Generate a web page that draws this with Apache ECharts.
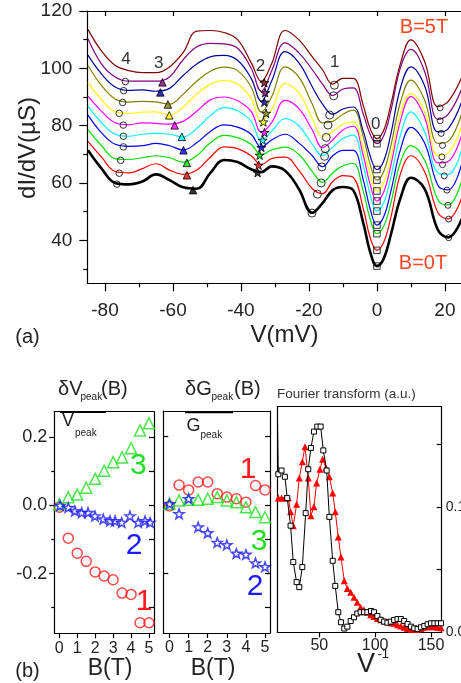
<!DOCTYPE html>
<html>
<head>
<meta charset="utf-8">
<script src="https://cdn.jsdelivr.net/npm/echarts@6/dist/echarts.min.js"></script>
<style>
  html, body { margin: 0; padding: 0; background: #fff; }
  #chart { width: 461px; height: 683px; }
</style>
</head>
<body>
<div id="chart"></div>
<script>
const FONT = '"Liberation Sans", Arial, Helvetica, sans-serif';

// ---- (a) tunnelling spectra dI/dV(V), one curve per field B = 0 ... 5 T ----
const biasV = [-85, -81, -77, -73, -69, -65, -61, -57, -53, -49, -45, -41, -37, -34, -31, -27, -23, -19, -16, -13, -10, -7, -4, -2, 0, 2, 4, 7, 10, 14, 18, 21, 25];
const gB00 = [71.4, 65, 60, 59.5, 60.5, 63, 61, 58.5, 58, 63.5, 68, 67.3, 64.8, 63.8, 65.8, 64.3, 58, 49.6, 53, 57.5, 58.6, 57.5, 46, 36, 31, 33.6, 41.5, 55, 61.8, 58, 43.5, 41, 47.5];
const gB05 = [74.5, 69, 64, 63.5, 65, 66.7, 64.5, 63, 64.5, 69, 72.6, 72, 69.5, 66.4, 68.5, 69, 64.5, 58, 56.3, 60.5, 62.6, 62, 51, 41, 36.5, 39.3, 47.5, 63.5, 69.5, 64, 49.5, 47.5, 55];
const gB10 = [78.5, 73, 68.5, 68.2, 68.8, 69.5, 68.8, 67.3, 69.5, 74, 76.6, 75.8, 73.5, 69.8, 71.5, 72.5, 70, 64, 60.2, 63.5, 66, 66.8, 57, 47.5, 42.3, 44.9, 52.5, 67.5, 73, 68, 54, 52.3, 61];
const gB15 = [83.7, 77.5, 73.5, 72.8, 73, 73.8, 73, 71.5, 74, 78, 80.3, 79.5, 77, 72.5, 75, 77, 74, 69.5, 65.7, 69.5, 71.4, 71.4, 61, 51, 45.3, 48.2, 56.6, 72, 79.4, 74, 59, 57.6, 67];
const gB20 = [86.8, 81, 77, 76.3, 77, 77.3, 77, 76.1, 79, 83.5, 86.3, 85.2, 81.5, 75, 78, 82.5, 80, 73.5, 69.5, 72.5, 75.5, 76.7, 66, 56, 50.2, 53.1, 61.6, 77, 84.8, 78, 63.5, 63, 72];
const gB25 = [90.3, 85, 81, 80.3, 81, 80.8, 80.5, 81.5, 85, 89, 90, 88.7, 85, 77.7, 81, 88.8, 86, 78.5, 72.3, 75, 78.5, 79.8, 69.5, 59.5, 53.7, 56.8, 65.7, 82, 90.1, 83, 67, 67.5, 77];
const gB30 = [95, 89, 84.8, 84.3, 84.7, 84.8, 83.7, 86.5, 91, 94.5, 95.8, 94.5, 89.5, 81.4, 85.5, 94.7, 91.5, 82.5, 76.2, 78, 80.5, 81.3, 72, 63, 57.2, 60.1, 68.4, 84.5, 91.2, 85, 69.6, 70.5, 80];
const gB35 = [101, 94, 89.3, 88.2, 88.5, 88.3, 87.5, 91, 95.5, 99, 100.4, 99.2, 93.5, 84.8, 90, 100.5, 97, 87.5, 81, 81.5, 84, 85.4, 76, 66.5, 61, 64, 72.5, 88.5, 95.9, 89, 73.8, 74.5, 84.5];
const gB40 = [104.6, 98, 93.5, 92.3, 92.5, 92, 93, 97.5, 101.5, 104, 104.5, 102.8, 96.5, 88.5, 95.5, 105.8, 102, 93.5, 87.5, 84, 85.8, 86.5, 78, 69.5, 64.7, 67.7, 76.5, 93.5, 100.5, 94, 77.8, 79, 88.5];
const gB45 = [110.3, 101.5, 97, 95.5, 95.5, 95.5, 97, 103, 107.5, 108.7, 108.5, 107, 100, 92, 99, 108.9, 105.5, 99.5, 94.5, 90.5, 92.8, 93.2, 84, 77, 73.7, 76.5, 84.6, 100.5, 106.6, 99, 82.2, 84, 93];
const gB50 = [113.5, 106, 101, 99.2, 98.5, 98.5, 100.5, 105.5, 113, 113.2, 112.5, 110, 102, 95.5, 101.5, 113.2, 110, 104, 99.5, 94.5, 96.5, 96.5, 87, 79, 75.5, 78.4, 86.9, 102, 109.9, 102.5, 86.6, 88.5, 97];
const curveColors = ['#000000', '#ff0000', '#00dd00', '#0000ff', '#00ffff', '#ff00ff', '#ffff00', '#808000', '#000099', '#800080', '#800000'];

// peak positions tracked on each curve (curve index = position in the arrays)
const peak4V = [-76.5, -75.8, -75.4, -74.6, -74.6, -74.6, -75.8, -74.8, -74.5, -74.0];
const peak4G = [59.6, 63.4, 67.9, 72.6, 76.3, 80.2, 84.3, 88.1, 92.2, 95.4];
const peak3V = [-54.1, -55.9, -55.9, -56.9, -57.4, -59.5, -61.1, -61.5, -63.7, -63.1];
const peak3G = [57.5, 62.7, 67, 71.4, 76.1, 80.1, 83.6, 87.4, 91.6, 95.1];
const peak2V = [-35.1, -34.8, -34.5, -34.0, -33.6, -33.1, -33.4, -32.6, -33.1, -32.9, -33.1];
const peak2G = [63.6, 66.2, 69.7, 72.4, 74.9, 77.6, 81.3, 84.3, 88.2, 91.5, 95];
const peak1V = [-19.1, -17.5, -16.4, -16.2, -15.4, -15.2, -14.9, -14.4, -13.9, -12.7, -12.5];
const peak1G = [49.5, 56.1, 60, 65.6, 69.3, 72, 75.9, 80.2, 83.7, 90.4, 94.1];
const peak0V = [0, 0, 0, 0, 0, 0, 0, 0, 0, 0, 0];
const peak0G = [31, 36.5, 42.3, 45.3, 50.2, 53.7, 57.2, 61, 64.7, 73.7, 75.5];
const peakRV = [21.1, 21.1, 20.9, 20.6, 19.8, 19.3, 19.1, 19.3, 18.9, 18.6, 18.6];
const peakRG = [40.9, 47.4, 52.2, 57.5, 62.5, 66.4, 69.1, 73.1, 77.3, 81.7, 86.2];

const vTicks = [-80, -60, -40, -20, 0, 20];
const vMinor = [-70, -50, -30, -10, 10];
const gTicks = [40, 60, 80, 100, 120];
const gMinor = [30, 50, 70, 90, 110];

// ---- (b) relative peak shifts versus field ----
const fieldB = [0, 0.5, 1, 1.5, 2, 2.5, 3, 3.5, 4, 4.5, 5];
const dV1 = [-0.005, -0.096, -0.140, -0.164, -0.195, -0.207, -0.218, -0.257, -0.261, -0.344, -0.344];
const dV3 = [0.003, 0.024, 0.032, 0.052, 0.078, 0.102, 0.127, 0.141, 0.168, 0.220, 0.241];
const dV2B = [0.04, 0.5, 0.87, 1.25, 1.6, 1.99, 2.45, 2.83, 3.11, 3.48, 3.94, 4.4, 4.78, 5.06];
const dV2 = [0.0, -0.006, -0.016, -0.021, -0.021, -0.031, -0.040, -0.045, -0.045, -0.050, -0.031, -0.050, -0.045, -0.050];
const dG1 = [-0.003, 0.058, 0.044, 0.067, 0.067, 0.033, 0.023, 0.018, 0.008, 0.057, 0.044];
const dG3 = [0.003, 0.013, 0.015, 0.015, 0.018, 0.023, 0.013, 0.008, -0.007, -0.021, -0.036];
const dG2 = [0.003, -0.026, 0.018, -0.065, -0.082, -0.110, -0.117, -0.142, -0.145, -0.170, -0.181];
const bTicks = [0, 1, 2, 3, 4, 5];
const relTicks = [-0.2, 0, 0.2];
const relMinor = [-0.3, -0.1, 0.1];
const relAll = [-0.3, -0.2, -0.1, 0, 0.1, 0.2];

// ---- Fourier transform of the spectra ----
const ftBlackX = [12.6, 13.3, 16.2, 19.2, 21.3, 24.3, 26.7, 29.7, 32.1, 34.8, 37.8, 40.1, 42.5, 45.2, 48.2, 51.2, 53.6, 56.6, 59, 62, 64.3, 67, 69.4, 72.4, 75.1, 78.1, 81.1, 84, 87, 90, 93, 96.3, 99, 102, 105, 108, 111, 114, 117, 120, 123, 126, 129, 132, 135, 138, 141, 144, 147, 150, 153, 156, 159];
const ftBlack = [0.168, 0.126, 0.129, 0.124, 0.107, 0.085, 0.056, 0.040, 0.036, 0.052, 0.095, 0.130, 0.147, 0.160, 0.164, 0.164, 0.145, 0.129, 0.092, 0.057, 0.037, 0.016, 0.008, 0.003, 0.0045, 0.009, 0.012, 0.015, 0.016, 0.016, 0.016, 0.017, 0.016, 0.013, 0.010, 0.0085, 0.0077, 0.0085, 0.0098, 0.0106, 0.0106, 0.009, 0.0066, 0.0045, 0.0032, 0.0027, 0.004, 0.005, 0.0064, 0.0072, 0.0072, 0.0072, 0.0072];
const ftRedX = [13.3, 16.2, 19.2, 22.2, 24.3, 26.7, 29.7, 32.1, 34.8, 37.2, 40.1, 42.5, 45.2, 47.6, 50.6, 53, 56, 59, 62, 64.3, 67, 69.4, 72.4, 75.1, 78.1, 81.1, 84, 87, 90, 93, 96, 99, 102, 105, 108, 111, 114, 117, 120, 123, 126, 129, 132, 135, 138, 141, 144, 147, 150, 153, 156, 159];
const ftRed = [0.107, 0.107, 0.107, 0.107, 0.096, 0.085, 0.102, 0.123, 0.136, 0.148, 0.123, 0.093, 0.100, 0.119, 0.130, 0.138, 0.131, 0.124, 0.111, 0.096, 0.076, 0.060, 0.041, 0.035, 0.032, 0.028, 0.024, 0.020, 0.018, 0.016, 0.014, 0.0125, 0.011, 0.010, 0.009, 0.0085, 0.0077, 0.0072, 0.006, 0.005, 0.004, 0.003, 0.0024, 0.0024, 0.0024, 0.003, 0.004, 0.0045, 0.0045, 0.0045, 0.004, 0.0037];
const ftTicks = [50, 100, 150];
const ftYTicks = [0.05, 0.1, 0.15];
const ftYLabels = [0, 0.1];

const RED = '#ff1a1a', GREEN = '#1ee01e', BLUE = '#1a1aff', ORANGE = '#ff4422';
const STAR = 'path://M0,-10 L2.35,-3.24 L9.51,-3.09 L3.8,1.24 L5.88,8.09 L0,4 L-5.88,8.09 L-3.8,1.24 L-9.51,-3.09 L-2.35,-3.24 Z';
const LINE = { color: '#000', width: 1.2 };
const LABEL_COLOR = '#222';

function zip(xs, ys) { return xs.map((x, i) => [x, ys[i]]); }

function xAxis(grid, min, max, pos, o) {
  return Object.assign({
    gridIndex: grid, type: 'value', min, max, position: pos,
    axisLine: { show: true, onZero: false, lineStyle: LINE },
    axisTick: { show: false }, axisLabel: { show: false },
    splitLine: { show: false }
  }, o || {});
}
function yAxis(grid, min, max, pos, o) {
  return Object.assign({
    gridIndex: grid, type: 'value', min, max, position: pos,
    axisLine: { show: true, onZero: false, lineStyle: LINE },
    axisTick: { show: false }, axisLabel: { show: false },
    splitLine: { show: false }
  }, o || {});
}
function ticks(values, len, inside) {
  return { show: true, inside: !!inside, length: len, customValues: values, lineStyle: LINE };
}
function labels(values, size, margin, fmt) {
  const l = { show: true, customValues: values, fontSize: size, fontFamily: FONT, color: LABEL_COLOR, margin };
  if (fmt) l.formatter = fmt;
  return l;
}
const fmt1 = v => (Math.abs(v) < 1e-9 ? '0.0' : v.toFixed(1));
const fmt2 = v => (Math.abs(v) < 1e-9 ? '0.00' : v.toFixed(2));

const xAxes = [
  xAxis(0, -85.2, 26, 'bottom', { axisTick: ticks(vTicks, 8), axisLabel: labels(vTicks, 19, 18) }),
  xAxis(0, -85.2, 26, 'bottom', { axisLine: { show: false, onZero: false }, axisTick: ticks(vMinor, 4) }),
  xAxis(0, -85.2, 26, 'top', { axisTick: ticks(vTicks, 5, true) }),
  xAxis(1, -0.279, 5.279, 'bottom', { axisTick: ticks(bTicks, 5), axisLabel: labels(bTicks, 16, 7) }),
  xAxis(1, -0.279, 5.279, 'top'),
  xAxis(2, -0.325, 5.26, 'bottom', { axisTick: ticks(bTicks, 5), axisLabel: labels(bTicks, 16, 7) }),
  xAxis(2, -0.325, 5.26, 'top'),
  xAxis(3, 12.4, 159.6, 'bottom', { axisTick: ticks(ftTicks, 5), axisLabel: labels(ftTicks, 16, 5) }),
  xAxis(3, 12.4, 159.6, 'top')
];
const yAxes = [
  yAxis(0, 25, 120, 'left', { axisTick: ticks(gTicks, 8), axisLabel: labels(gTicks, 19, 15) }),
  yAxis(0, 25, 120, 'left', { axisLine: { show: false, onZero: false }, axisTick: ticks(gMinor, 4) }),
  yAxis(1, -0.375, 0.275, 'left', { axisTick: ticks(relTicks, 5), axisLabel: labels(relTicks, 18, 7, fmt1) }),
  yAxis(1, -0.375, 0.275, 'left', { axisLine: { show: false, onZero: false }, axisTick: ticks(relMinor, 3) }),
  yAxis(1, -0.375, 0.275, 'right', { axisTick: ticks(relAll, 5, true) }),
  yAxis(2, -0.375, 0.275, 'left', { axisTick: ticks(relTicks, 5, true) }),
  yAxis(2, -0.375, 0.275, 'right', { axisTick: ticks(relAll, 5, true) }),
  yAxis(3, 0, 0.18, 'left'),
  yAxis(3, 0, 0.18, 'right', { axisTick: ticks(ftYTicks, 5, true), axisLabel: labels(ftYLabels, 14, 4, fmt2) })
];

const series = [];
const spectra = [gB00, gB05, gB10, gB15, gB20, gB25, gB30, gB35, gB40, gB45, gB50];
spectra.forEach((vals, i) => {
  series.push({
    type: 'line', xAxisIndex: 0, yAxisIndex: 0, data: zip(biasV, vals),
    showSymbol: false, smooth: 0.4, silent: true, z: 2,
    lineStyle: { color: curveColors[i], width: i === 0 ? 2.6 : 1.2 }
  });
});

function peakMarks(vs, gs, symbol, size, filled) {
  return {
    type: 'scatter', xAxisIndex: 0, yAxisIndex: 0, symbol, symbolSize: size,
    symbolKeepAspect: true, silent: true, z: 5,
    data: vs.map((v, i) => ({
      value: [v, gs[i]],
      itemStyle: { color: filled ? curveColors[i] : 'rgba(0,0,0,0)', borderColor: '#000', borderWidth: 1 }
    }))
  };
}
series.push(peakMarks(peak4V, peak4G, 'circle', 6.5, false));
series.push(peakMarks(peak3V, peak3G, 'triangle', 7.5, true));
series.push(peakMarks(peak2V, peak2G, STAR, 9, true));
series.push(peakMarks(peak1V, peak1G, 'circle', 8, false));
series.push(peakMarks(peak0V, peak0G, 'rect', 6.5, false));
series.push(peakMarks(peakRV, peakRG, 'circle', 6, false));

function openMarks(xi, yi, xs, ys, symbol, size, color) {
  return {
    type: 'scatter', xAxisIndex: xi, yAxisIndex: yi, data: zip(xs, ys), symbol, symbolSize: size,
    symbolKeepAspect: true, silent: true, z: 4,
    itemStyle: { color: 'rgba(0,0,0,0)', borderColor: color, borderWidth: 1.5 }
  };
}
series.push(openMarks(3, 2, fieldB, dV1, 'circle', 10, RED));
series.push(openMarks(3, 2, fieldB, dV3, 'triangle', 11, GREEN));
series.push(openMarks(3, 2, dV2B, dV2, STAR, 10, BLUE));
series.push(openMarks(5, 5, fieldB, dG1, 'circle', 10, RED));
series.push(openMarks(5, 5, fieldB, dG3, 'triangle', 11, GREEN));
series.push(openMarks(5, 5, fieldB, dG2, STAR, 10, BLUE));

series.push({
  type: 'line', xAxisIndex: 7, yAxisIndex: 8, data: zip(ftRedX, ftRed),
  symbol: 'triangle', symbolSize: 7, showSymbol: true, silent: true, z: 3,
  lineStyle: { color: '#ff0000', width: 1 }, itemStyle: { color: '#ff0000' }
});
series.push({
  type: 'line', xAxisIndex: 7, yAxisIndex: 8,
  data: ftBlackX.map((x, i) => (i === 0 ? { value: [x, ftBlack[i]], symbol: 'none' } : [x, ftBlack[i]])),
  symbol: 'rect', symbolSize: 5, showSymbol: true, silent: true, z: 4,
  lineStyle: { color: '#000', width: 1 },
  itemStyle: { color: '#fff', borderColor: '#000', borderWidth: 1 }
});

function txt(text, x, y, size, fill, align, extra) {
  return Object.assign({
    type: 'text', x, y, silent: true, z: 20,
    style: { text, fontSize: size, fontFamily: FONT, fill: fill || '#222', align: align || 'center', verticalAlign: 'middle' }
  }, extra || {});
}
function bar(x1, x2, y) {
  return { type: 'line', silent: true, z: 20, shape: { x1, y1: y, x2, y2: y }, style: { stroke: '#000', lineWidth: 2 } };
}

const graphics = [
  txt('dI/dV(\u00B5S)', 28.5, 148, 24, '#222', 'center', { rotation: Math.PI / 2 }),
  txt('V(mV)', 284.5, 335, 24),
  txt('(a)', 27.5, 337, 20),
  txt('4', 126, 59, 17, '#333'),
  txt('3', 158.7, 63, 17, '#333'),
  txt('2', 260.5, 66, 17, '#333'),
  txt('1', 334.7, 62.5, 17, '#333'),
  txt('0', 375.8, 124.5, 17, '#333'),
  txt('B=5T', 424, 27, 20, ORANGE),
  txt('B=0T', 423, 263, 20, ORANGE),
  txt('(b)', 27.5, 671, 20),
  // delta V_peak / V_peak
  txt('\u03B4V', 58, 389, 20, '#222', 'left'),
  txt('peak', 80.5, 397, 10, '#222', 'left'),
  txt('(B)', 101, 389, 20, '#222', 'left'),
  bar(60, 106, 412),
  txt('V', 62, 421.5, 18, '#222', 'left'),
  txt('peak', 75, 433.5, 10, '#222', 'left'),
  // delta G_peak / G_peak
  txt('\u03B4G', 185, 389, 20, '#222', 'left'),
  txt('peak', 211.5, 397, 10, '#222', 'left'),
  txt('(B)', 234, 389, 20, '#222', 'left'),
  bar(185, 233, 412.3),
  txt('G', 186.5, 426.5, 18, '#222', 'left'),
  txt('peak', 200.5, 435, 10, '#222', 'left'),
  txt('Fourier transform (a.u.)', 277, 394, 13.5, '#333', 'left'),
  txt('B(T)', 110, 669, 23),
  txt('B(T)', 213, 669, 23),
  txt('V', 366, 665, 27),
  txt('-1', 377.5, 654, 13, '#222', 'left'),
  txt('3', 138.3, 466, 30, GREEN),
  txt('2', 134, 546, 30, BLUE),
  txt('1', 144, 602, 30, RED),
  txt('1', 248, 470, 30, RED),
  txt('3', 259, 542, 30, GREEN),
  txt('2', 255, 587, 30, BLUE)
];

const chart = echarts.init(document.getElementById('chart'), null, { renderer: 'canvas', width: 461, height: 683 });
const gridBase = { containLabel: false, outerBoundsMode: 'none' };
chart.setOption({
  animation: false,
  backgroundColor: '#fff',
  textStyle: { fontFamily: FONT },
  grid: [
    Object.assign({ left: 87.3, top: 11, width: 378, height: 272.3 }, gridBase),
    Object.assign({ left: 54.3, top: 411.7, width: 99.7, height: 221.6 }, gridBase),
    Object.assign({ left: 163.3, top: 411, width: 106.7, height: 222 }, gridBase),
    Object.assign({ left: 277.3, top: 406.5, width: 164.4, height: 225.8 }, gridBase)
  ],
  xAxis: xAxes,
  yAxis: yAxes,
  series,
  graphic: graphics
});
</script>
</body>
</html>
